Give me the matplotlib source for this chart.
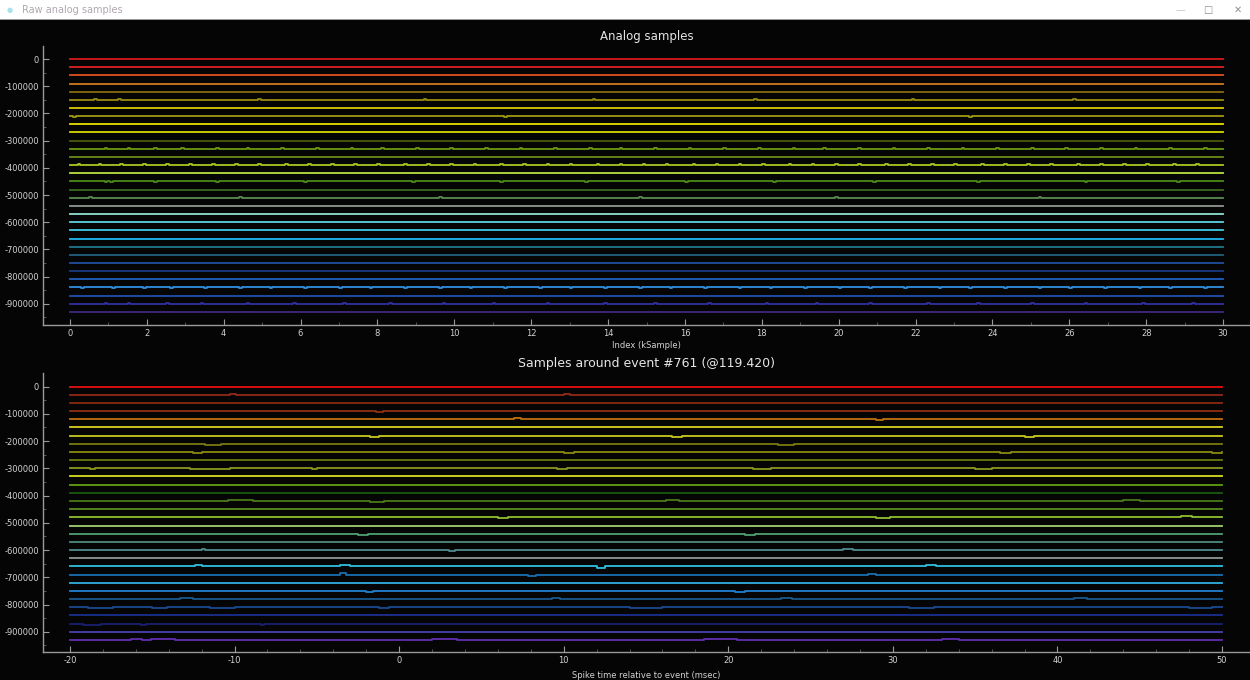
import numpy as np
import matplotlib.pyplot as plt
from matplotlib.patches import Rectangle
from matplotlib.ticker import MultipleLocator, FixedLocator

plt.rcParams['axes.unicode_minus'] = False

# channel layout
n_channels = 32
channel_spacing = 30000
top_x_range = (0, 30)      # kSample
bottom_x_range = (-20, 50)  # msec

# line colours (top panel / bottom panel)
top_colors = ['#d81818', '#e02020', '#e05020', '#d07a20', '#8a6a10', '#9a8a10',
              '#d8c800', '#a09a10', '#e8e000', '#d8d800', '#4a5a10', '#6a9a10',
              '#6a8a18', '#a8c820', '#b8e040', '#4a8a18', '#3a6a20', '#5a8a50',
              '#909890', '#90e0d0', '#60d0e0', '#40c8e0', '#20b8f0', '#207890',
              '#206080', '#2050a0', '#1a3a80', '#2060c0', '#3090e0', '#2050b0',
              '#3030a0', '#402880']
bottom_colors = ['#e81010', '#902818', '#8a2a10', '#903010', '#c07010', '#d8d020',
                 '#c8c820', '#7a7a10', '#8a8a10', '#6a7a10', '#8a9a20', '#d8e020',
                 '#60a010', '#1a5a10', '#4a7a18', '#5a8a20', '#90c030', '#a0d070',
                 '#50a070', '#508a80', '#508a90', '#909898', '#30c0e0', '#1a70b0',
                 '#30b0e0', '#2080d0', '#1a5a90', '#1a4a90', '#1a3090', '#1a2070',
                 '#4a40b0', '#6030b0']

# small deviations visible on the top traces: channel -> positions (kSample)
top_blip_pos = {
    5: [0.63, 1.25, 4.9, 9.2, 13.6, 17.8, 21.9, 26.1],
    7: [0.08, 11.3, 23.4],
    9: [0.37, 0.99, 1.56, 2.19, 5.1, 8.4, 12.0, 15.3, 19.7, 24.2, 28.5],
    11: [0.9, 1.5, 2.2, 2.9, 3.8, 4.6, 5.5, 6.4, 7.3, 8.1, 9.0, 9.9, 10.8, 11.7,
         12.6, 13.5, 14.3, 15.2, 16.1, 17.0, 17.9, 18.8, 19.6, 20.5, 21.4, 22.3,
         23.2, 24.1, 25.0, 25.9, 26.8, 27.7, 28.6, 29.5],
    13: [0.2, 0.75, 1.3, 1.9, 2.5, 3.1, 3.7, 4.3, 4.9, 5.6, 6.2, 6.8, 7.4, 8.0,
         8.7, 9.3, 9.9, 10.5, 11.2, 11.8, 12.4, 13.0, 13.7, 14.3, 14.9, 15.5,
         16.2, 16.8, 17.4, 18.0, 18.7, 19.3, 19.9, 20.5, 21.2, 21.8, 22.4, 23.0,
         23.7, 24.3, 24.9, 25.5, 26.2, 26.8, 27.4, 28.0, 28.7, 29.3],
    15: [0.9, 1.05, 2.2, 3.8, 6.1, 8.9, 11.2, 13.4, 16.0, 18.3, 20.9, 23.6, 26.4, 28.8],
    17: [0.5, 4.4, 9.6, 14.8, 19.9, 25.2],
    27: [0.1, 0.7, 1.4, 2.1, 2.8, 3.6, 4.3, 5.1, 5.9, 6.7, 7.5, 8.3, 9.1, 9.9,
         10.7, 11.5, 12.3, 13.1, 13.9, 14.7, 15.5, 16.3, 17.1, 17.9, 18.7, 19.5,
         20.3, 21.1, 21.9, 22.7, 23.5, 24.3, 25.1, 25.9, 26.7, 27.5, 28.3, 29.1],
    28: [0.3, 1.1, 1.9, 2.6, 3.5, 4.4, 5.2, 6.1, 7.0, 7.8, 8.7, 9.6, 10.4, 11.3,
         12.2, 13.0, 13.9, 14.8, 15.6, 16.5, 17.4, 18.2, 19.1, 20.0, 20.8, 21.7,
         22.6, 23.4, 24.3, 25.2, 26.0, 26.9, 27.8, 28.6, 29.5],
    30: [0.9, 1.5, 2.5, 3.4, 4.6, 5.8, 7.1, 8.3, 9.7, 11.0, 12.4, 13.9, 15.2,
         16.6, 18.1, 19.4, 20.8, 22.3, 23.6, 25.0, 26.4, 27.9, 29.2],
}
top_blip_amp = {5: 2500, 7: -2500, 9: 2500, 11: 3000, 13: 3500, 15: -2500,
                17: 2500, 27: 3000, 28: -3000, 30: 2500}

# deviations on the bottom traces: channel -> (start ms, end ms, offset)
bottom_segments = {
    1: [(-10.3, -9.9, 4000), (10.0, 10.4, 3000)],
    3: [(-1.4, -1.0, -3000)],
    4: [(7.0, 7.4, 3000), (29.0, 29.4, -3000)],
    6: [(-1.8, -1.2, -5000), (16.6, 17.2, -5000), (38.0, 38.6, -5000)],
    7: [(-11.8, -10.8, -3000), (23.0, 24.0, -3000)],
    8: [(-12.5, -12.0, -3000), (10.0, 10.6, -4000), (36.5, 37.2, -3000), (49.4, 50, -4000)],
    10: [(-18.8, -18.5, -4000), (-12.7, -10.3, -2500), (-5.3, -5.0, -4000),
         (9.6, 10.2, -4000), (21.5, 22.6, -3000), (35.0, 36.0, -3000)],
    12: [(-19.1, -17.4, -3000), (-15.5, -13.6, -2500), (-12.7, -9.0, -3000),
         (-4.9, -1.5, -2500), (8.0, 12.0, -3000), (19.5, 23.0, -2500),
         (30.0, 34.0, -3000), (41.0, 45.0, -2500)],
    14: [(-10.4, -8.9, 4000), (-1.8, -0.9, -4000), (16.2, 17.0, 4000), (44.0, 45.0, 4000)],
    16: [(-11.5, -10.0, 3000), (6.0, 6.6, -4000), (29.0, 29.8, -3000), (47.5, 48.2, 4000)],
    18: [(-2.5, -1.9, -4000), (21.0, 21.6, -4000)],
    20: [(-12.0, -11.8, 5000), (3.0, 3.4, -4000), (27.0, 27.6, 4000)],
    22: [(-12.4, -12.0, 5000), (-3.6, -3.0, 5000), (12.0, 12.5, -4000), (32.0, 32.6, 4000)],
    23: [(-3.6, -3.2, 6000), (7.8, 8.3, -4000), (28.5, 29.0, 4000)],
    25: [(-2.0, -1.6, -5000), (20.4, 21.0, -4000)],
    26: [(-13.3, -12.5, 4000), (9.3, 9.8, 4000), (23.2, 23.9, 5000), (41.0, 41.8, 4000)],
    27: [(-18.9, -17.4, -3000), (-15.0, -14.1, -3000), (-11.5, -10.0, -3000),
         (-1.2, -0.6, -3000), (14.0, 16.0, -3000), (31.0, 32.5, -3000), (48.0, 49.4, -3000)],
    29: [(-19.2, -18.1, -4000), (-15.7, -15.4, -4000), (-15.0, -11.8, -3000),
         (-8.4, -8.2, -4000), (4.0, 6.5, -3000), (22.0, 25.0, -3000), (38.0, 40.5, -3000)],
    31: [(-16.3, -15.6, 3000), (-15.1, -13.6, 3000), (2.0, 3.5, 3000),
         (18.5, 20.5, 3000), (33.0, 34.0, 3000)],
}


def step_trace(x0, x1, segs):
    xs, ys = [x0], [0.0]
    for a, b, d in sorted(segs):
        xs += [a, a, b, b]
        ys += [0.0, d, d, 0.0]
    xs.append(x1)
    ys.append(0.0)
    return np.array(xs), np.array(ys)


fig = plt.figure(figsize=(12.5, 6.8), dpi=100, facecolor='#050505')

# window title bar
fig.patches.append(Rectangle((0, 1 - 19 / 680), 1, 19 / 680, transform=fig.transFigure,
                             facecolor='white', edgecolor='none', zorder=0))
fig.patches.append(Rectangle((0, 1 - 20 / 680), 1, 1 / 680, transform=fig.transFigure,
                             facecolor='#9a9a9a', edgecolor='none', zorder=0))
fig.text(10 / 1250, 1 - 10 / 680, '\u25cf', color='#a8e0ec', fontsize=5, va='center', ha='center')
fig.text(22 / 1250, 1 - 10 / 680, 'Raw analog samples', color='#b0a8b0', fontsize=7, va='center')
fig.text(1180 / 1250, 1 - 10 / 680, '\u2014', color='#c8c8c8', fontsize=7, va='center', ha='center')
fig.text(1208 / 1250, 1 - 10 / 680, '\u25a1', color='#909090', fontsize=7, va='center', ha='center')
fig.text(1238 / 1250, 1 - 10 / 680, '\u2715', color='#909090', fontsize=7, va='center', ha='center')

ax_top = fig.add_axes([43 / 1250, 1 - 325 / 680, 1207 / 1250, 279 / 680])
ax_bot = fig.add_axes([43 / 1250, 1 - 652 / 680, 1207 / 1250, 279 / 680])

text_color = '#d2d2d2'
axis_color = '#9a9a9a'

for ax in (ax_top, ax_bot):
    ax.set_facecolor('#050505')
    for s in ('top', 'right'):
        ax.spines[s].set_visible(False)
    for s in ('left', 'bottom'):
        ax.spines[s].set_color(axis_color)
        ax.spines[s].set_linewidth(1.0)
    ax.tick_params(which='major', direction='in', length=4, width=0.8, color=axis_color,
                   labelcolor=text_color, labelsize=6, pad=3)
    ax.tick_params(which='minor', direction='in', length=2, width=0.6, color='#606060')
    ax.yaxis.set_major_locator(FixedLocator(np.arange(0, -950000, -100000)))
    ax.yaxis.set_minor_locator(FixedLocator(np.arange(-50000, -1000000, -100000)))
    ax.set_yticklabels([str(v) for v in np.arange(0, -950000, -100000)])

# top panel
for ch in range(n_channels):
    pos = top_blip_pos.get(ch, [])
    segs = [(p, p + 0.07, top_blip_amp[ch]) for p in pos]
    xs, ys = step_trace(top_x_range[0], top_x_range[1], segs)
    ax_top.plot(xs, ys - ch * channel_spacing, color=top_colors[ch], lw=1.3)

ax_top.set_xlim(-0.70, 30.70)
ax_top.set_ylim(-978000, 48000)
ax_top.xaxis.set_major_locator(MultipleLocator(2))
ax_top.xaxis.set_minor_locator(MultipleLocator(1))
ax_top.set_title('Analog samples', color='#e6e6e6', fontsize=8.5, pad=4)
ax_top.set_xlabel('Index (kSample)', color=text_color, fontsize=6, labelpad=2)

# bottom panel
for ch in range(n_channels):
    xs, ys = step_trace(bottom_x_range[0], bottom_x_range[1], bottom_segments.get(ch, []))
    ax_bot.plot(xs, ys - ch * channel_spacing, color=bottom_colors[ch], lw=1.3)

ax_bot.set_xlim(-21.64, 51.70)
ax_bot.set_ylim(-974000, 49700)
ax_bot.xaxis.set_major_locator(MultipleLocator(10))
ax_bot.xaxis.set_minor_locator(MultipleLocator(2))
ax_bot.set_title('Samples around event #761 (@119.420)', color='#e6e6e6', fontsize=9, pad=4)
ax_bot.set_xlabel('Spike time relative to event (msec)', color=text_color, fontsize=6, labelpad=4)

fig.savefig('out.png', dpi=100, facecolor=fig.get_facecolor())
